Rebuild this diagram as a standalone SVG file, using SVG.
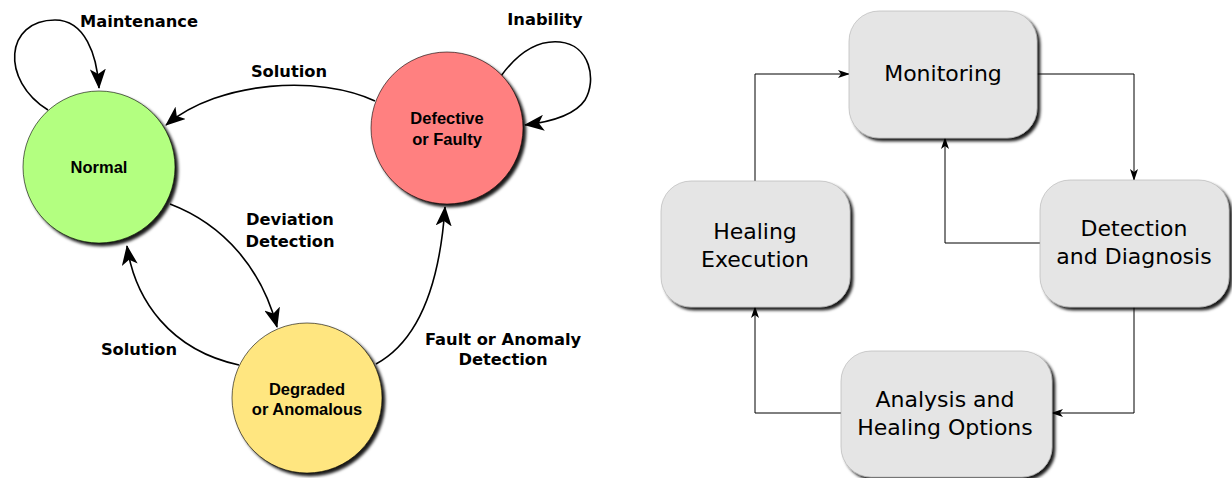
<svg xmlns="http://www.w3.org/2000/svg" width="1232" height="478" viewBox="0 0 1232 478">
<defs>
<filter id="sh" x="-20%" y="-20%" width="140%" height="140%">
<feDropShadow dx="3" dy="3" stdDeviation="1.6" flood-color="#000" flood-opacity="0.9"/>
</filter>
<marker id="big" viewBox="0 0 20 16" refX="19" refY="8" markerWidth="20" markerHeight="16" markerUnits="userSpaceOnUse" orient="auto">
<path d="M0,0 L20,8 L0,16 L5,8 Z" fill="#000"/>
</marker>
<marker id="sm" viewBox="0 0 12 8" refX="11" refY="4" markerWidth="12" markerHeight="8" markerUnits="userSpaceOnUse" orient="auto">
<path d="M0,0 L12,4 L0,8 L3,4 Z" fill="#000"/>
</marker>
</defs>
<style>
.st{stroke:#000;stroke-width:0.6;filter:url(#sh)}
.ct{font-family:"Liberation Sans",Arial,sans-serif;font-weight:bold;font-size:16.5px;fill:#000;text-anchor:middle}
.lb{font-family:"DejaVu Sans",sans-serif;font-weight:bold;font-size:16.3px;fill:#000;text-anchor:middle}
.bx{fill:#e5e5e5;stroke:#b0b0b0;stroke-width:0.6;filter:url(#sh)}
.bt{font-family:"DejaVu Sans",sans-serif;font-size:22px;fill:#000;text-anchor:middle}
.cv{fill:none;stroke:#000;stroke-width:1.6}
.ln{fill:none;stroke:#000;stroke-width:1}
</style>
<rect width="1232" height="478" fill="#fff"/>
<g id="connectors">
<path class="cv" d="M48,110 C0,80 5,20 55,20 C85,20 97,55 99,88" marker-end="url(#big)"/>
<path class="cv" d="M375,101 C320,75 220,80 166,125" marker-end="url(#big)"/>
<path class="cv" d="M501,76 C520,50 540,40 560,42 C590,45 597,80 585,100 C575,115 550,122 525,125" marker-end="url(#big)"/>
<path class="cv" d="M170,204 C225,225 262,270 277,327" marker-end="url(#big)"/>
<path class="cv" d="M239,365 C170,350 135,300 127,246" marker-end="url(#big)"/>
<path class="cv" d="M376,364 C420,340 440,280 445,207" marker-end="url(#big)"/>
<path class="ln" d="M755,181 V74 H849" marker-end="url(#sm)"/>
<path class="ln" d="M1037,74 H1134 V180" marker-end="url(#sm)"/>
<path class="ln" d="M1040,243 H945 V138" marker-end="url(#sm)"/>
<path class="ln" d="M1134,307 V413 H1052" marker-end="url(#sm)"/>
<path class="ln" d="M841,413 H755 V307" marker-end="url(#sm)"/>
<text class="lb" x="139" y="27">Maintenance</text>
<text class="lb" x="289" y="77">Solution</text>
<text class="lb" x="545" y="25">Inability</text>
<text class="lb" x="290" y="225">Deviation</text>
<text class="lb" x="290" y="247">Detection</text>
<text class="lb" x="139" y="355">Solution</text>
<text class="lb" x="503" y="345">Fault or Anomaly</text>
<text class="lb" x="503" y="365">Detection</text>
</g>
<g id="normal">
<circle class="st" cx="99" cy="167" r="76" fill="#b3ff80"/>
<text class="ct" x="99" y="173">Normal</text>
</g>
<g id="defective">
<circle class="st" cx="447" cy="128" r="76" fill="#ff8080"/>
<text class="ct" x="447" y="124">Defective</text>
<text class="ct" x="447" y="145">or Faulty</text>
</g>
<g id="degraded">
<circle class="st" cx="307" cy="398" r="75" fill="#ffe680"/>
<text class="ct" x="307" y="395">Degraded</text>
<text class="ct" x="307" y="415">or Anomalous</text>
</g>
<g id="monitoring">
<rect class="bx" x="849" y="11" width="188" height="127" rx="30"/>
<text class="bt" x="943" y="81">Monitoring</text>
</g>
<g id="detection">
<rect class="bx" x="1040" y="180" width="189" height="127" rx="30"/>
<text class="bt" x="1134" y="236">Detection</text>
<text class="bt" x="1134" y="264">and Diagnosis</text>
</g>
<g id="healing">
<rect class="bx" x="661" y="181" width="189" height="126" rx="30"/>
<text class="bt" x="755" y="239">Healing</text>
<text class="bt" x="755" y="267">Execution</text>
</g>
<g id="analysis">
<rect class="bx" x="841" y="351" width="211" height="126" rx="30"/>
<text class="bt" x="945" y="407">Analysis and</text>
<text class="bt" x="945" y="435">Healing Options</text>
</g>
</svg>
